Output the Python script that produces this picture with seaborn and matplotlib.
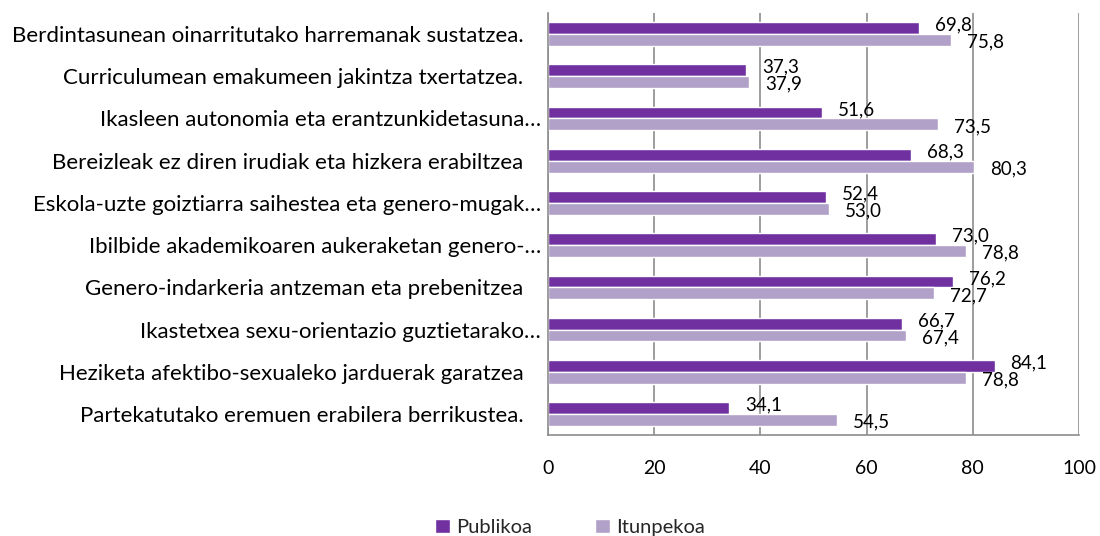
import matplotlib
matplotlib.use("Agg")
import matplotlib.pyplot as plt
import seaborn as sns
import pandas as pd

# Categories, top to bottom
categories = [
    "Berdintasunean oinarritutako harremanak sustatzea.",
    "Curriculumean emakumeen jakintza txertatzea.",
    "Ikasleen autonomia eta erantzunkidetasuna…",
    "Bereizleak ez diren irudiak eta hizkera erabiltzea",
    "Eskola-uzte goiztiarra saihestea eta genero-mugak…",
    "Ibilbide akademikoaren aukeraketan genero-…",
    "Genero-indarkeria antzeman eta prebenitzea",
    "Ikastetxea sexu-orientazio guztietarako…",
    "Heziketa afektibo-sexualeko jarduerak garatzea",
    "Partekatutako eremuen erabilera berrikustea.",
]
series_names = ["Publikoa", "Itunpekoa"]
publikoa = [69.8, 37.3, 51.6, 68.3, 52.4, 73.0, 76.2, 66.7, 84.1, 34.1]
itunpekoa = [75.8, 37.9, 73.5, 80.3, 53.0, 78.8, 72.7, 67.4, 78.8, 54.5]
x_ticks = [0, 20, 40, 60, 80, 100]

colors = ["#7030A0", "#B1A0C7"]
FS_CAT = 16
FS_NUM = 13.5
FS_TICK = 14
FS_LEG = 14.5

df = pd.DataFrame({
    "category": categories * 2,
    "value": publikoa + itunpekoa,
    "series": [series_names[0]] * len(categories) + [series_names[1]] * len(categories),
})

sns.set_theme(style="white")
plt.rcParams["font.family"] = ["Lato", "DejaVu Sans"]

fig = plt.figure(figsize=(11, 5.36), dpi=100)
ax = fig.add_axes([0.498, 0.188, 0.483, 0.788])

sns.barplot(
    data=df, y="category", x="value", hue="series", orient="h",
    order=categories, hue_order=series_names, palette=colors,
    width=0.56, saturation=1, ax=ax, legend=True,
)

ax.set_xlim(0, 100)
ax.set_xticks(x_ticks)
ax.set_xticklabels([str(t) for t in x_ticks], fontsize=FS_TICK, color="#000000")
ax.tick_params(axis="x", length=0, pad=18)
ax.tick_params(axis="y", length=0, pad=5)
ax.set_xlabel("")
ax.set_ylabel("")

# y tick labels: complete phrases carry a little right padding
ticklabels = [c if c.endswith("…") else c + "   " for c in categories]
ax.set_yticklabels(ticklabels, fontsize=FS_CAT, color="#000000")

ax.xaxis.grid(True, color="#8C8C8C", linewidth=1.2)
ax.set_axisbelow(True)
for side in ["top", "right"]:
    ax.spines[side].set_visible(False)
for side in ["left", "bottom"]:
    ax.spines[side].set_color("#8C8C8C")
    ax.spines[side].set_linewidth(1.2)

# value labels just beyond each bar end
for container, dy in zip(ax.containers, [-0.07, 0.05]):
    labels = [f"{v:.1f}".replace(".", ",") for v in container.datavalues]
    for rect, lab in zip(container, labels):
        y = rect.get_y() + rect.get_height() / 2 + dy
        ax.annotate(lab, (rect.get_width(), y), xytext=(16, 0),
                    textcoords="offset pixels",
                    va="center", ha="left", fontsize=FS_NUM, color="#000000")

handles, labs = ax.get_legend_handles_labels()
ax.legend_.remove()
fig.legend(handles, labs, loc="center", bbox_to_anchor=(0.518, 0.016),
           ncol=2, frameon=False, fontsize=FS_LEG, handlelength=0.75,
           handleheight=0.75, columnspacing=3.1, handletextpad=0.3)

fig.savefig("out.png", dpi=100)
